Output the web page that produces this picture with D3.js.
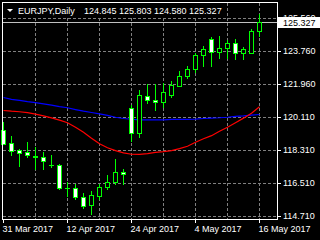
<!DOCTYPE html>
<html>
<head>
<meta charset="utf-8">
<script src="https://cdn.jsdelivr.net/npm/d3@7"></script>
<style>
html, body { margin: 0; padding: 0; background: #000; overflow: hidden; }
svg { display: block; }
text { font-family: "Liberation Sans", Arial, sans-serif; font-size: 9px; fill: #fff; }
</style>
</head>
<body>
<svg id="chart" width="320" height="240"></svg>
<script>
// daily bars, EURJPY
var dates = ['2017-03-31', '2017-04-03', '2017-04-04', '2017-04-05', '2017-04-06', '2017-04-07',
    '2017-04-10', '2017-04-11', '2017-04-12', '2017-04-13', '2017-04-14', '2017-04-17',
    '2017-04-18', '2017-04-19', '2017-04-20', '2017-04-21', '2017-04-24', '2017-04-25',
    '2017-04-26', '2017-04-27', '2017-04-28', '2017-05-01', '2017-05-02', '2017-05-03',
    '2017-05-04', '2017-05-05', '2017-05-08', '2017-05-09', '2017-05-10', '2017-05-11',
    '2017-05-12', '2017-05-15', '2017-05-16'];
var opens  = [119.44, 118.73, 118.31, 118.20, 118.00, 117.96, 117.51, 117.52, 116.24, 116.26, 115.75,
    115.33, 115.82, 116.28, 116.55, 117.14, 120.64, 119.26, 121.30, 121.08, 120.94, 121.36,
    121.85, 122.36, 122.77, 123.55, 124.41, 123.68, 123.92, 124.19, 123.64, 123.64, 124.845];
var highs  = [119.84, 119.07, 118.38, 118.78, 118.51, 118.20, 118.07, 117.55, 116.55, 116.48, 115.97,
    116.06, 116.48, 116.96, 117.83, 117.30, 120.81, 121.63, 121.94, 121.94, 122.00, 122.09,
    122.63, 122.91, 123.66, 124.00, 124.52, 124.55, 124.37, 124.41, 123.99, 124.94, 125.803];
var lows   = [118.64, 118.07, 117.43, 117.94, 117.30, 117.30, 117.40, 116.21, 115.80, 115.66, 115.17,
    114.84, 115.66, 116.21, 116.48, 116.46, 118.80, 119.04, 120.90, 120.54, 120.68, 121.23,
    121.82, 122.25, 122.58, 122.91, 122.95, 123.37, 123.36, 123.31, 123.29, 123.63, 124.580];
var closes = [118.66, 118.25, 118.14, 118.03, 117.95, 117.70, 117.50, 116.22, 116.24, 115.75, 115.24,
    115.86, 116.30, 116.57, 117.14, 117.00, 119.26, 121.36, 121.05, 120.94, 121.48, 121.91,
    122.40, 122.78, 123.55, 123.86, 123.70, 123.92, 124.19, 123.64, 123.86, 124.83, 125.327];
// moving averages
var maBlue = [121.23, 121.13, 121.07, 121.00, 120.95, 120.88, 120.81, 120.73, 120.67, 120.57, 120.48,
    120.41, 120.33, 120.25, 120.15, 120.08, 120.04, 120.01, 120.00, 120.00, 120.00, 120.03,
    120.03, 120.03, 120.05, 120.08, 120.10, 120.12, 120.15, 120.20, 120.22, 120.26, 120.30];
var maRed  = [120.52, 120.48, 120.45, 120.40, 120.32, 120.22, 120.11, 119.99, 119.85, 119.60, 119.33,
    119.00, 118.70, 118.48, 118.32, 118.20, 118.12, 118.11, 118.16, 118.22, 118.26, 118.32,
    118.43, 118.56, 118.78, 118.97, 119.14, 119.38, 119.60, 119.85, 120.10, 120.37, 120.72];
var priceTicks = [125.560, 123.760, 121.960, 120.110, 118.310, 116.510, 114.710];
var dateTicks = [0, 8, 16, 24, 32];
var gridCols = [4, 8, 12, 16, 20, 24, 28, 32];
var title = 'EURJPY,Daily';
var bid = 125.327;

var svg = d3.select('#chart');
svg.append('rect').attr('width', 320).attr('height', 240).attr('fill', '#000');

var parse = d3.timeParse('%Y-%m-%d');
var fmt = d3.timeFormat('%-d %b %Y');
var fmtPrice = d3.format('.3f');

var bars = dates.map(function(d, i) {
    return { date: parse(d), o: opens[i], h: highs[i], l: lows[i], c: closes[i] };
});

var x = d3.scaleLinear().domain([0, dates.length - 1]).range([3, 259]).interpolate(d3.interpolateRound);
var y = d3.scaleLinear().domain([114.71, 125.56]).range([216, 18]).interpolate(d3.interpolateRound);
var yf = d3.scaleLinear().domain([114.71, 125.56]).range([216.5, 18.5]);

var gridColor = '#808080';

// grid
var grid = svg.append('g').attr('shape-rendering', 'crispEdges')
    .attr('stroke', gridColor).attr('stroke-dasharray', '3,2');
grid.selectAll('.hg').data(priceTicks).enter().append('line')
    .attr('x1', 3).attr('x2', 277)
    .attr('y1', function(d) { return y(d) + 0.5; })
    .attr('y2', function(d) { return y(d) + 0.5; });
grid.selectAll('.vg').data(gridCols).enter().append('line')
    .attr('x1', function(d) { return x(d) + 0.5; })
    .attr('x2', function(d) { return x(d) + 0.5; })
    .attr('y1', 3).attr('y2', 219);

// bid line
svg.append('line').attr('shape-rendering', 'crispEdges')
    .attr('x1', 3).attr('x2', 277)
    .attr('y1', y(bid) + 0.5).attr('y2', y(bid) + 0.5)
    .attr('stroke', '#c0c0c0');

// moving averages
var maLine = d3.line()
    .x(function(d, i) { return x(i) + 0.5; })
    .y(function(d) { return yf(d); });
svg.append('path').datum(maBlue).attr('d', maLine)
    .attr('fill', 'none').attr('stroke', '#0000ff').attr('stroke-width', 1.2);
svg.append('path').datum(maRed).attr('d', maLine)
    .attr('fill', 'none').attr('stroke', '#ff0000').attr('stroke-width', 1.2);

// candles
var candles = svg.append('g').attr('shape-rendering', 'crispEdges');
var candle = candles.selectAll('.candle').data(bars).enter().append('g').attr('class', 'candle');
candle.append('line')
    .attr('x1', function(d, i) { return x(i) + 0.5; })
    .attr('x2', function(d, i) { return x(i) + 0.5; })
    .attr('y1', function(d) { return y(d.h); })
    .attr('y2', function(d) { return y(d.l) + 1; })
    .attr('stroke', '#00ff00');
candle.each(function(d, i) {
    var g = d3.select(this);
    var top = y(Math.max(d.o, d.c));
    var bot = y(Math.min(d.o, d.c));
    var cx = x(i);
    if (bot - top < 1) {
        g.append('line')
            .attr('x1', cx - 2).attr('x2', cx + 3)
            .attr('y1', top + 0.5).attr('y2', top + 0.5)
            .attr('stroke', '#00ff00');
    } else {
        g.append('rect')
            .attr('x', cx - 1.5).attr('y', top + 0.5)
            .attr('width', 4).attr('height', bot - top)
            .attr('fill', d.c > d.o ? '#000' : '#fff')
            .attr('stroke', '#00ff00');
    }
});

// frame
svg.append('rect').attr('shape-rendering', 'crispEdges')
    .attr('x', 2.5).attr('y', 2.5).attr('width', 275).attr('height', 217)
    .attr('fill', 'none').attr('stroke', '#fff');

// price axis
var yAxis = svg.append('g').attr('transform', 'translate(277,0)')
    .call(d3.axisRight(y).tickValues(priceTicks).tickSize(4).tickPadding(2).tickFormat(fmtPrice));
yAxis.select('.domain').remove();
yAxis.selectAll('line').attr('stroke', '#fff').attr('shape-rendering', 'crispEdges');
yAxis.selectAll('text').attr('fill', '#fff').attr('font-size', 9)
    .attr('font-family', '"Liberation Sans", Arial, sans-serif');

// date axis
var xAxis = svg.append('g').attr('transform', 'translate(0,219)')
    .call(d3.axisBottom(x).tickValues(dateTicks).tickSize(4).tickPadding(3)
        .tickFormat(function(i) { return fmt(bars[i].date); }));
xAxis.select('.domain').remove();
xAxis.selectAll('line').attr('stroke', '#fff').attr('shape-rendering', 'crispEdges');
xAxis.selectAll('text').attr('fill', '#fff').attr('font-size', 9)
    .attr('font-family', '"Liberation Sans", Arial, sans-serif')
    .attr('text-anchor', 'start').attr('x', -1);

// bid label
svg.append('rect').attr('x', 278).attr('y', 17).attr('width', 42).attr('height', 11).attr('fill', '#fff');
svg.append('text').attr('x', 283).attr('y', 26).style('fill', '#000').text(fmtPrice(bid));

// title
var last = bars[bars.length - 1];
svg.append('rect').attr('x', 3).attr('y', 3).attr('width', 224).attr('height', 13).attr('fill', '#000');
svg.append('path').attr('d', 'M7,9L13,9L10,12Z').attr('fill', '#fff');
svg.append('text').attr('x', 18).attr('y', 14).text(title);
svg.append('text').attr('x', 84).attr('y', 14)
    .text([last.o, last.h, last.l, last.c].map(fmtPrice).join(' '));
</script>
</body>
</html>
